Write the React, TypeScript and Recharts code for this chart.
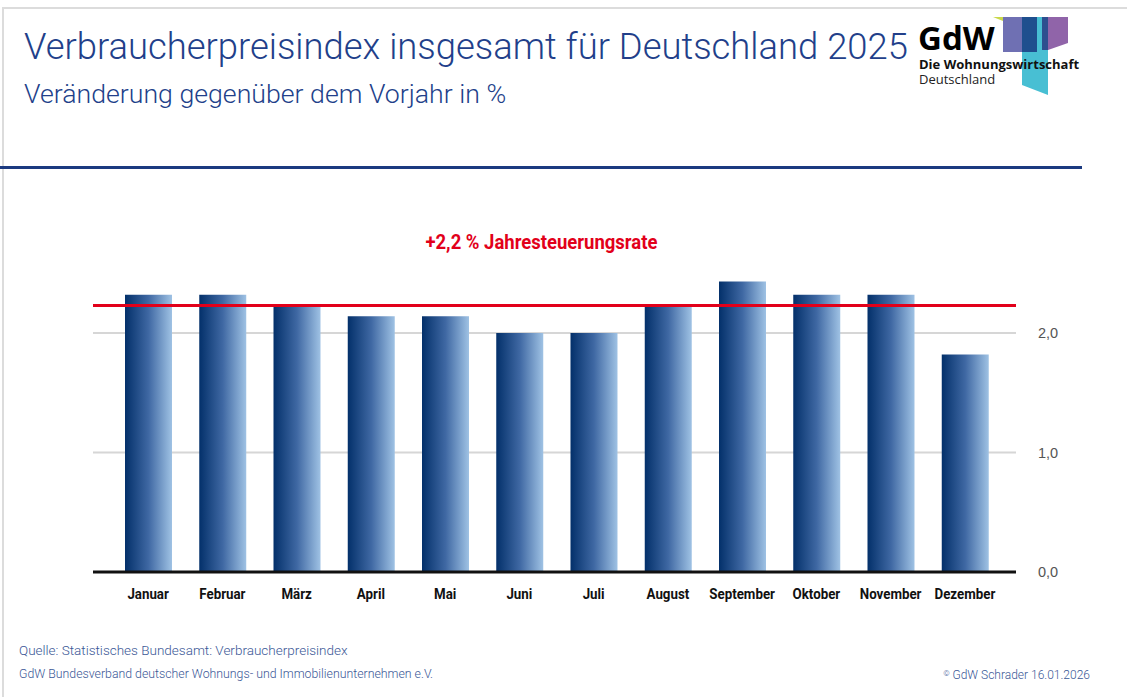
import React from "react";
import { BarChart, Bar, XAxis, YAxis, CartesianGrid, ReferenceLine } from "recharts";

const months = ["Januar", "Februar", "März", "April", "Mai", "Juni", "Juli", "August", "September", "Oktober", "November", "Dezember"];
const inflation = [2.32, 2.32, 2.23, 2.14, 2.14, 2.0, 2.0, 2.23, 2.43, 2.32, 2.32, 1.82];
const annualRate = 2.23;
const annualLabel = "+2,2 % Jahresteuerungsrate";
const yTicks = [0, 1, 2];
const gridValues = [1, 2];

const data = months.map((m, i) => ({ month: m, value: inflation[i] }));

const blueText = "#223f8a";

const fmt = (v: number) => v.toFixed(1).replace(".", ",");

const MonthTick = (props: any) => {
  const { x, y, payload } = props;
  return (
    <g transform={`translate(${x},${y}) scale(0.86,1)`}>
      <text x={0} y={0} dy="0.71em" textAnchor="middle" fill="#111" fontSize={15.5} fontWeight={700} fontFamily="Roboto, sans-serif">
        {payload.value}
      </text>
    </g>
  );
};

const ValueTick = (props: any) => {
  const { x, y, payload } = props;
  return (
    <text x={x} y={y} dy="0.355em" textAnchor="start" fill="#555" fontSize={14.5} fontFamily="'Liberation Sans', Arial, sans-serif">
      {fmt(payload.value)}
    </text>
  );
};

export default function App() {
  return (
    <div style={{ position: "absolute", left: 0, top: 0, width: 1127, height: 697, background: "#fff", overflow: "hidden", fontFamily: "Roboto, sans-serif" }}>
      <div style={{ position: "absolute", left: 2, top: 7, width: 1140, height: 720, borderTop: "2px solid #dcdcdc", borderLeft: "2px solid #dcdcdc" }} />
      <div style={{ position: "absolute", left: 24, top: 25, fontSize: 36.4, fontWeight: 300, color: blueText, whiteSpace: "nowrap", lineHeight: "44px" }}>
        Verbraucherpreisindex insgesamt für Deutschland 2025
      </div>
      <div style={{ position: "absolute", left: 24, top: 78, fontSize: 26.7, fontWeight: 300, color: blueText, whiteSpace: "nowrap", lineHeight: "32px" }}>
        Veränderung gegenüber dem Vorjahr in %
      </div>
      <div style={{ position: "absolute", left: 0, top: 166, width: 1082, height: 3, background: "#1b3a80" }} />

      <svg style={{ position: "absolute", left: 0, top: 0 }} width={1127} height={110}>
        <polygon points="993,17 1013,17 1013,25" fill="#c9d84a" />
        <polygon points="1003,17 1013,17 1013,25 1003,21" fill="#5f6a4a" />
        <rect x={1003} y={17} width={19} height={35} fill="#6f70b3" />
        <rect x={1022} y={17} width={15} height={35} fill="#1f4f8e" />
        <polygon points="1037,17 1048,17 1048,95 1022,85 1022,52 1037,52" fill="#48bfd3" />
        <rect x={1042} y={17} width={6} height={33} fill="#2d4f8f" />
        <polygon points="1048,17 1068,17 1068,43 1048,50" fill="#9064a9" />
        <text x={918} y={50} fontFamily="'Open Sans', sans-serif" fontWeight={700} fontSize={33} fill="#000">GdW</text>
        <text x={919} y={69} fontFamily="'Open Sans', sans-serif" fontWeight={700} fontSize={13} fill="#111">Die Wohnungswirtschaft</text>
        <text x={919} y={84} fontFamily="'Open Sans', sans-serif" fontWeight={400} fontSize={13} fill="#222">Deutschland</text>
      </svg>

      <div style={{ position: "absolute", left: 0, top: 0 }}>
        <BarChart
          width={1127}
          height={697}
          data={data}
          margin={{ top: 273.25, bottom: 95, left: 93, right: 71 }}
          barCategoryGap={0}
        >
          <defs>
            <linearGradient id="barGrad" x1="0" y1="0" x2="1" y2="0">
              <stop offset="0%" stopColor="#03306a" />
              <stop offset="50%" stopColor="#3f68a3" />
              <stop offset="100%" stopColor="#9fc2e4" />
            </linearGradient>
          </defs>
          <CartesianGrid vertical={false} horizontalValues={gridValues} stroke="#d6d6d6" strokeWidth={2} />
          <XAxis
            dataKey="month"
            padding={{ left: 18, right: 14 }}
            axisLine={{ stroke: "#111", strokeWidth: 3 }}
            tickLine={false}
            tickMargin={10}
            interval={0}
            tick={<MonthTick />}
          />
          <YAxis
            orientation="right"
            domain={[0, 2.5]}
            ticks={yTicks}
            width={40}
            axisLine={false}
            tickLine={false}
            tickMargin={16}
            tick={<ValueTick />}
          />
          <Bar dataKey="value" fill="url(#barGrad)" barSize={47} isAnimationActive={false} />
          <ReferenceLine y={annualRate} stroke="#e2001a" strokeWidth={3} />
        </BarChart>
      </div>

      <div style={{ position: "absolute", left: 0, width: 1083, top: 228, textAlign: "center", fontWeight: 700, fontSize: 21, color: "#e2001a", whiteSpace: "nowrap", lineHeight: "28px", transform: "scaleX(0.88)", transformOrigin: "541px 0" }}>
        {annualLabel}
      </div>

      <div style={{ position: "absolute", left: 19, top: 641, fontSize: 13.5, fontWeight: 300, color: "#3a5796", whiteSpace: "nowrap", lineHeight: "18px" }}>
        Quelle: Statistisches Bundesamt: Verbraucherpreisindex
      </div>
      <div style={{ position: "absolute", left: 19, top: 665, fontSize: 12.3, fontWeight: 300, color: "#3a5796", whiteSpace: "nowrap", lineHeight: "18px" }}>
        GdW Bundesverband deutscher Wohnungs- und Immobilienunternehmen e.V.
      </div>
      <div style={{ position: "absolute", right: 1127 - 1090, top: 665, fontSize: 12, fontWeight: 300, color: "#3a5796", whiteSpace: "nowrap", lineHeight: "18px" }}>
        <span style={{ fontSize: 8, verticalAlign: "3px" }}>©</span> GdW Schrader 16.01.2026
      </div>
    </div>
  );
}
